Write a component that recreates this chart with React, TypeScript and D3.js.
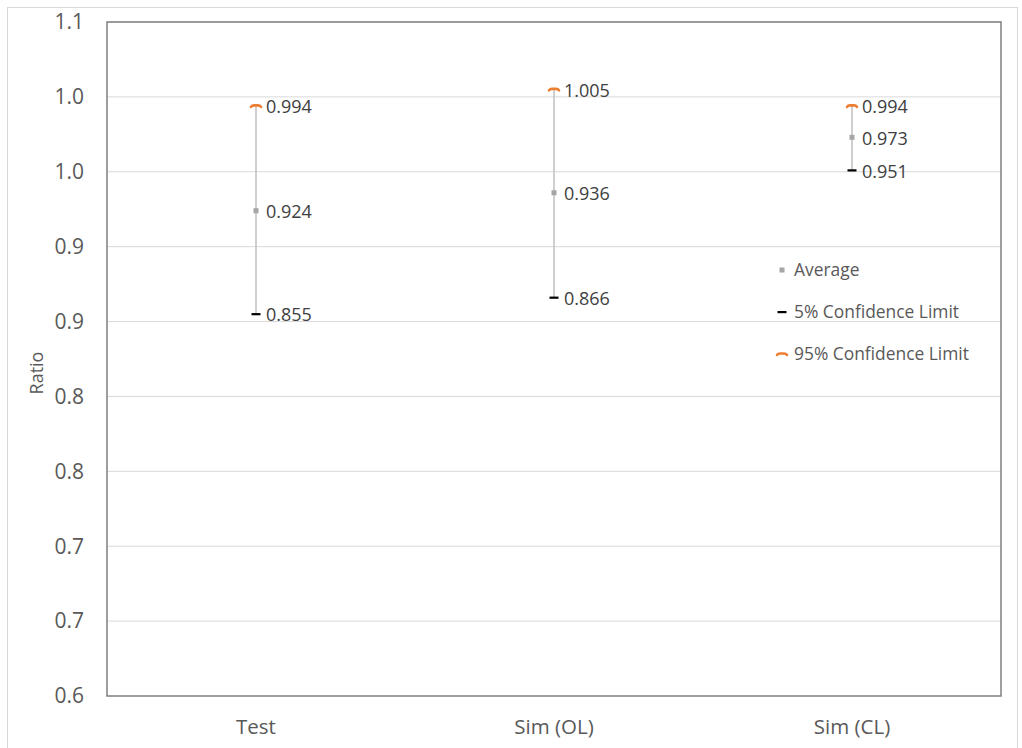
import React from "react";
import * as d3 from "d3";

const categories = ["Test", "Sim (OL)", "Sim (CL)"];
const averages = [0.924, 0.936, 0.973];
const lowLimits = [0.855, 0.866, 0.951];
const highLimits = [0.994, 1.005, 0.994];
const yTicks = [0.6, 0.65, 0.7, 0.75, 0.8, 0.85, 0.9, 0.95, 1.0, 1.05];
const legendItems = ["Average", "5% Confidence Limit", "95% Confidence Limit"];

const W = 1022;
const H = 748;
const plot = { left: 107, right: 1001, top: 22, bottom: 696 };
const FONT = "'Open Sans', sans-serif";
const TEXT = "#595959";
const GREY = "#a5a5a5";
const ORANGE = "#ed7d31";

const x = d3.scaleBand<string>().domain(categories).range([plot.left, plot.right]);
const y = d3.scaleLinear().domain([0.6, 1.05]).range([plot.bottom, plot.top]);

// flat dash with slightly drooping ends, used for the 95% limit marker
const orangeDash = (cx: number, cy: number) =>
  `M${cx - 5},${cy + 1} Q${cx - 4},${cy - 0.5} ${cx - 2},${cy - 0.5} L${cx + 2},${cy - 0.5} Q${cx + 4},${cy - 0.5} ${cx + 5},${cy + 1}`;

function Markers({ cx, avg, lo, hi }: { cx: number; avg: number; lo: number; hi: number }) {
  return (
    <g>
      <rect x={cx - 2.5} y={y(avg) - 2.5} width={5} height={5} fill={GREY} />
      <rect x={cx - 4.5} y={y(lo) - 1} width={9} height={2.2} fill="#000" />
      <path d={orangeDash(cx, y(hi))} fill="none" stroke={ORANGE} strokeWidth={2.6} strokeLinecap="round" />
    </g>
  );
}

export default function App() {
  const fmt = d3.format(".1f");
  const labelFmt = d3.format(".3f");
  return (
    <svg width={W} height={H} style={{ position: "absolute", left: 0, top: 0 }}>
      <rect x={0} y={0} width={W} height={H} fill="#fff" />
      <rect x={7.5} y={7.5} width={1010} height={760} fill="none" stroke="#d9d9d9" strokeWidth={1} />

      {/* gridlines */}
      {yTicks.slice(1).map((t) => (
        <line key={t} x1={plot.left} x2={plot.right} y1={y(t)} y2={y(t)} stroke="#d9d9d9" strokeWidth={1} />
      ))}

      {/* plot frame */}
      <rect
        x={plot.left}
        y={plot.top}
        width={plot.right - plot.left}
        height={plot.bottom - plot.top}
        fill="none"
        stroke="#7f7f7f"
        strokeWidth={1.5}
      />

      {/* y tick labels */}
      {yTicks.map((t) => (
        <text key={t} x={84} y={y(t)} dy="0.35em" textAnchor="end" fontFamily={FONT} fontSize={21} fill={TEXT}>
          {fmt(t + 1e-9)}
        </text>
      ))}

      <text
        transform={`translate(43,${(plot.top + plot.bottom) / 2 + 14}) rotate(-90)`}
        textAnchor="middle"
        fontFamily={FONT}
        fontSize={18}
        fill={TEXT}
      >
        Ratio
      </text>

      {/* category labels */}
      {categories.map((c) => (
        <text key={c} x={x(c)! + x.bandwidth() / 2} y={727} dy="0.35em" textAnchor="middle" fontFamily={FONT} fontSize={20.5} fill={TEXT}>
          {c}
        </text>
      ))}

      {/* error bars */}
      {categories.map((c, i) => {
        const cx = x(c)! + x.bandwidth() / 2;
        return (
          <g key={c}>
            <line x1={cx} x2={cx} y1={y(lowLimits[i])} y2={y(highLimits[i])} stroke="#bfbfbf" strokeWidth={1.5} />
            <Markers cx={cx} avg={averages[i]} lo={lowLimits[i]} hi={highLimits[i]} />
            {[highLimits[i], averages[i], lowLimits[i]].map((v, k) => (
              <text key={k} x={cx + 10} y={y(v) + 1} dy="0.35em" fontFamily={FONT} fontSize={18} fill="#404040">
                {labelFmt(v)}
              </text>
            ))}
          </g>
        );
      })}

      {/* legend */}
      {legendItems.map((name, i) => {
        const ly = 270 + i * 42;
        const mx = 782;
        return (
          <g key={name}>
            {i === 0 && <rect x={mx - 2.5} y={ly - 2.5} width={5} height={5} fill={GREY} />}
            {i === 1 && <rect x={mx - 4.5} y={ly - 1} width={9} height={2.2} fill="#000" />}
            {i === 2 && <path d={orangeDash(mx, ly)} fill="none" stroke={ORANGE} strokeWidth={2.6} strokeLinecap="round" />}
            <text x={794} y={ly} dy="0.35em" fontFamily={FONT} fontSize={17.4} fill={TEXT}>
              {name}
            </text>
          </g>
        );
      })}
    </svg>
  );
}
